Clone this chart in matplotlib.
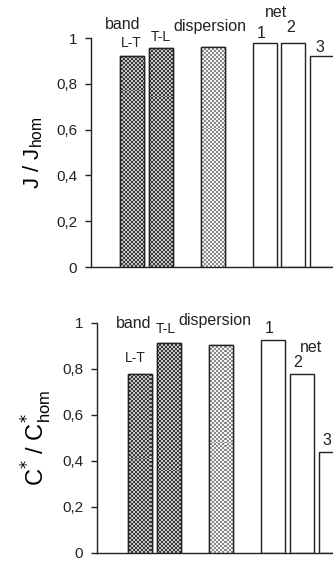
import numpy as np
import matplotlib
matplotlib.use("Agg")
import matplotlib.pyplot as plt

plt.rcParams["font.family"] = ["Liberation Sans", "DejaVu Sans"]

# bar order: band L-T, band T-L, dispersion, net 1, net 2, net 3
bar_pos = [0, 1, 2.8, 4.6, 5.6, 6.6]
bar_kind = ["band", "band", "dispersion", "net", "net", "net"]
j_ratio = [0.92, 0.955, 0.96, 0.98, 0.98, 0.92]
c_ratio = [0.78, 0.915, 0.905, 0.925, 0.78, 0.44]
y_ticks = [0, 0.2, 0.4, 0.6, 0.8, 1.0]
y_ticklabels = ["0", "0,2", "0,4", "0,6", "0,8", "1"]

W, H = 333, 563

# two-tone checker colours for the textured bars
checker = {"band": ("#3a3a3a", "#c4c4c4"), "dispersion": ("#8a8a8a", "#f2f2f2")}


def make_axes(fig, left_px, top_px, bottom_px, xmin, xmax):
    ax = fig.add_axes([left_px / W, 1 - bottom_px / H,
                       (W - left_px) / W, (bottom_px - top_px) / H])
    ax.set_xlim(xmin, xmax)
    ax.set_ylim(0, 1.0)
    ax.spines["top"].set_visible(False)
    ax.spines["right"].set_visible(False)
    for s in ("left", "bottom"):
        ax.spines[s].set_linewidth(1.0)
        ax.spines[s].set_color("#222222")
    ax.set_yticks(y_ticks)
    ax.set_yticklabels(y_ticklabels, fontsize=11)
    ax.tick_params(axis="y", direction="out", length=4, width=1, pad=6,
                   colors="#222222")
    ax.tick_params(axis="x", bottom=False, labelbottom=False)
    ax.patch.set_alpha(0)
    ax.set_facecolor("none")
    return ax, (W - left_px, bottom_px - top_px)


def checker_rgb(shape_px, c_dark, c_light, cell=2):
    h, w = shape_px[1] // cell + 1, shape_px[0] // cell + 1
    ii, jj = np.indices((h, w))
    mask = (ii + jj) % 2 == 0
    d = np.array(matplotlib.colors.to_rgb(c_dark))
    l = np.array(matplotlib.colors.to_rgb(c_light))
    img = np.where(mask[..., None], d, l)
    return img


def draw_bars(ax, size_px, values):
    xmin, xmax = ax.get_xlim()
    bars = ax.bar(bar_pos, values, width=0.83, facecolor="white",
                  edgecolor="#222222", linewidth=1.0, zorder=2)
    for b, k in zip(bars, bar_kind):
        if k in checker:
            img = checker_rgb(size_px, *checker[k])
            im = ax.imshow(img, extent=(xmin, xmax, 0, 1), aspect="auto",
                           interpolation="nearest", zorder=3)
            im.set_clip_path(b)
            ax.bar(b.get_x() + b.get_width() / 2, b.get_height(),
                   width=b.get_width(), facecolor="none",
                   edgecolor="#222222", linewidth=1.0, zorder=4)
    ax.set_xlim(xmin, xmax)
    ax.set_ylim(0, 1.0)


fig = plt.figure(figsize=(W / 100, H / 100), dpi=100)
kw = dict(ha="center", va="center", clip_on=False, color="#222222")

# top panel: J / J_hom
ax1, sz1 = make_axes(fig, 91, 38, 267, -1.41, 6.97)
draw_bars(ax1, sz1, j_ratio)
ax1.set_ylabel(r"J / J$_{\mathregular{hom}}$", fontsize=16, labelpad=8)
ax1.text(-0.3, 1.06, "band", fontsize=11.5, **kw)
ax1.text(bar_pos[0], j_ratio[0] + 0.06, "L-T", fontsize=10, **kw)
ax1.text(bar_pos[1], j_ratio[1] + 0.05, "T-L", fontsize=10, **kw)
ax1.text(2.7, 1.05, "dispersion", fontsize=11.5, **kw)
ax1.text(5.0, 1.11, "net", fontsize=11.5, **kw)
for i, lab in zip([3, 4, 5], ["1", "2", "3"]):
    ax1.text(bar_pos[i] - 0.1, j_ratio[i] + 0.04 + (0.025 if i == 4 else 0),
             lab, fontsize=11.5, **kw)

# bottom panel: C* / C*_hom
ax2, sz2 = make_axes(fig, 97, 323, 553, -1.48, 6.66)
draw_bars(ax2, sz2, c_ratio)
ax2.set_ylabel(r"C$^{*}$ / C$^{*}_{\mathregular{hom}}$", fontsize=17, labelpad=6)
ax2.text(-0.2, 1.0, "band", fontsize=11.5, **kw)
ax2.text(bar_pos[0] - 0.15, c_ratio[0] + 0.07, "L-T", fontsize=10, **kw)
ax2.text(bar_pos[1] - 0.1, c_ratio[1] + 0.06, "T-L", fontsize=10, **kw)
ax2.text(2.6, 1.01, "dispersion", fontsize=11.5, **kw)
ax2.text(5.9, 0.895, "net", fontsize=11.5, **kw)
for i, lab in zip([3, 4, 5], ["1", "2", "3"]):
    ax2.text(bar_pos[i] - 0.15, c_ratio[i] + 0.05, lab, fontsize=11.5, **kw)

fig.savefig("out.png", dpi=100, facecolor="white")
